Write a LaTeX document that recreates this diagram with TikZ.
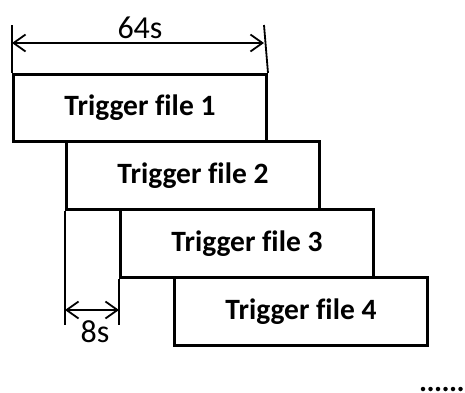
\documentclass[tikz,border=0pt]{standalone}
\usepackage{fontspec}
\setmainfont{Carlito}[Ligatures={NoCommon}]
\usetikzlibrary{arrows.meta}
\begin{document}
\begin{tikzpicture}[x=1pt,y=-1pt,
  filebox/.style={draw=black, line width=3pt, fill=white, rectangle,
    minimum width=253pt, minimum height=68pt, inner sep=0pt, anchor=north west,
    font=\fontsize{29.5}{29.5}\selectfont\bfseries},
  dimline/.style={line width=1.8pt},
  dimarrow/.style={line width=1.8pt, {Straight Barb[length=12pt,width=17pt]}-{Straight Barb[length=12pt,width=17pt]}},
  dimlabel/.style={font=\fontsize{32}{32}\selectfont, anchor=base, inner sep=0pt},
  dot/.style={fill=black, circle, inner sep=0pt, minimum size=4.5pt}]
\useasboundingbox (0,0) rectangle (465,392);

% staggered trigger files
\node[filebox, minimum height=67pt] (f1) at (12,73) {Trigger file 1};
\node[filebox] (f2) at (65,140) {Trigger file 2};
\node[filebox] (f3) at (119,208) {Trigger file 3};
\node[filebox] (f4) at (173,276) {Trigger file 4};

% 64s dimension over the first file
\coordinate (a1) at (12,25);
\coordinate (a2) at (264,25);
\draw[dimline] (a1) -- (f1.north west);
\draw[dimline] (a2) -- (f1.north east);
\coordinate (d1) at (12,43);
\coordinate (d2) at (264,43);
\draw[dimarrow] (d1) -- (d2);
\node[dimlabel] (l64) at (140,38) {64s};

% 8s offset between consecutive files
\coordinate (b1) at (65,325);
\coordinate (b2) at (119,325);
\draw[dimline] (f2.south west) -- (b1);
\draw[dimline] (f3.south west) -- (b2);
\coordinate (e1) at (65,310);
\coordinate (e2) at (119,310);
\draw[dimarrow] (e1) -- (e2);
\node[dimlabel] (l8) at (95,342) {8s};

% continuation dots
\foreach \i in {0,...,5} {
  \node[dot] (p\i) at (423+7.5*\i,389) {};
}
\end{tikzpicture}
\end{document}
